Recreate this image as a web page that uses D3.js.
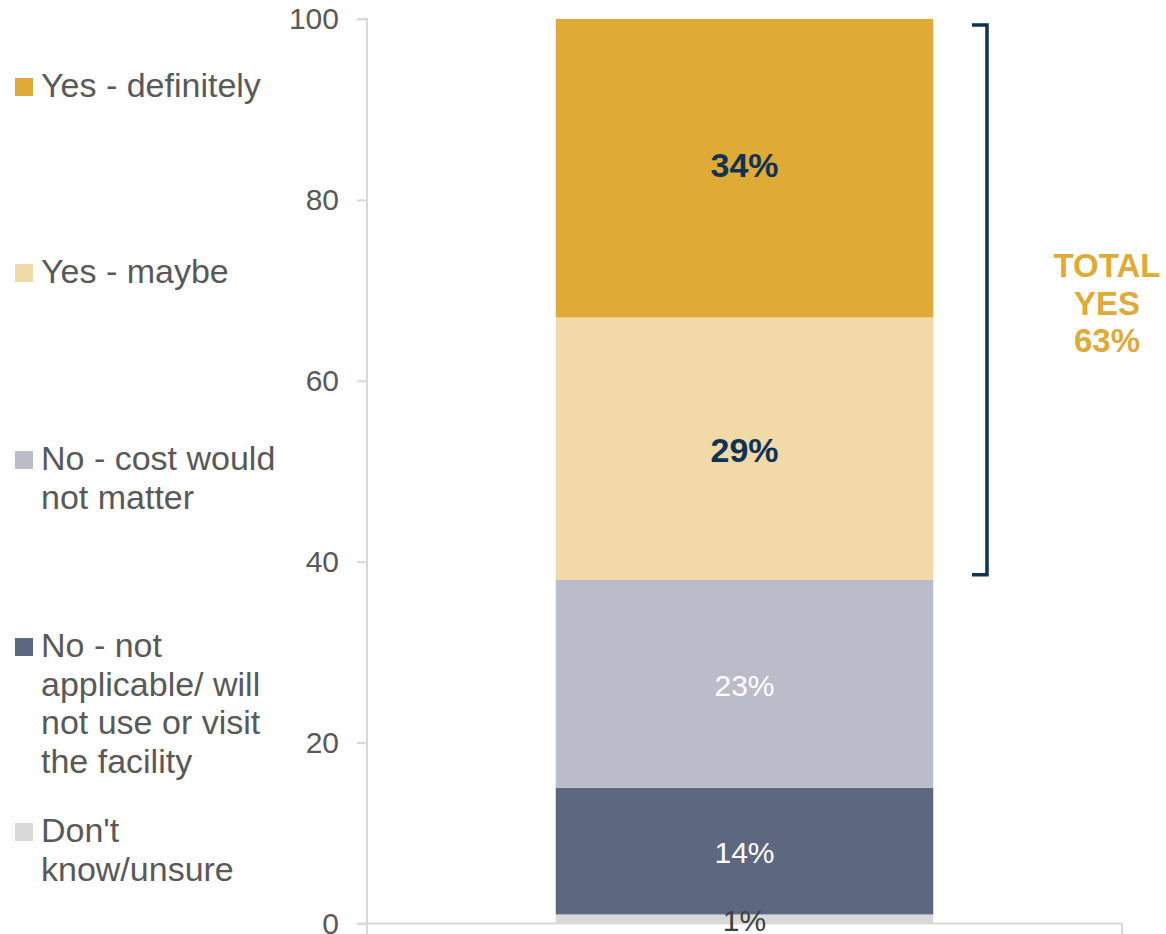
<!DOCTYPE html>
<html>
<head>
<meta charset="utf-8">
<script src="https://cdn.jsdelivr.net/npm/d3@7"></script>
<style>
  html, body { margin: 0; padding: 0; background: #fff; }
  svg { display: block; }
  text { font-family: "Liberation Sans", Arial, Helvetica, sans-serif; }
</style>
</head>
<body>
<svg id="chart" width="1166" height="934"></svg>
<script>
// ---- data ----
const categories = ["Total"];
const seriesNames = ["Don't know/unsure", "No - not applicable/ will not use or visit the facility", "No - cost would not matter", "Yes - maybe", "Yes - definitely"];
const seriesValues = [1, 14, 23, 29, 34];
const seriesLabels = ["1%", "14%", "23%", "29%", "34%"];
const legendLines = [
  ["Yes - definitely"],
  ["Yes - maybe"],
  ["No - cost would", "not matter"],
  ["No - not", "applicable/ will", "not use or visit", "the facility"],
  ["Don't", "know/unsure"]
];
const legendOrder = [4, 3, 2, 1, 0];
const yTicks = [0, 20, 40, 60, 80, 100];
const totalYesLines = ["TOTAL", "YES", "63%"];
const yesSeries = [3, 4];

// ---- styles ----
const colors = ["#D9D9D9", "#5D677F", "#BBBCC9", "#F2D9A8", "#E0AA36"];
const labelColors = ["#404040", "#FFFFFF", "#FFFFFF", "#0E3355", "#0E3355"];
const labelWeights = ["normal", "normal", "normal", "bold", "bold"];
const gray = "#595959";
const axisColor = "#D9D9D9";
const navy = "#0E3355";
const gold = "#E0AA36";

const svg = d3.select("#chart");

const x = d3.scaleBand().domain(categories).range([367, 1122]).paddingInner(0).paddingOuter(0.5);
const y = d3.scaleLinear().domain([0, 100]).range([923.5, 19]).clamp(true);
const yRaw = d3.scaleLinear().domain([0, 100]).range([923.5, 19]);

// stacked data
let acc = 0;
const stack = seriesValues.map((v, i) => {
  const s = { i, y0: acc, y1: acc + v };
  acc += v;
  return s;
});

// y axis
const yAxis = d3.axisLeft(y).tickValues(yTicks).tickSize(10).tickPadding(18).tickFormat(d3.format("d"));
const gy = svg.append("g").attr("transform", "translate(367,0)").call(yAxis);
gy.select(".domain").attr("stroke", axisColor).attr("stroke-width", 2).attr("d", "M-10,19H0V934");
gy.selectAll(".tick line").attr("stroke", axisColor).attr("stroke-width", 2);
gy.selectAll(".tick text").attr("fill", gray).attr("font-size", 30).attr("font-family", '"Liberation Sans", Arial, sans-serif');

// x axis (category axis, boundary ticks)
const xr = x.range();
svg.append("line").attr("x1", xr[0] - 10).attr("x2", xr[1]).attr("y1", y(0)).attr("y2", y(0))
  .attr("stroke", axisColor).attr("stroke-width", 2);
svg.append("line").attr("x1", xr[1]).attr("x2", xr[1]).attr("y1", y(0)).attr("y2", y(0) + 11)
  .attr("stroke", axisColor).attr("stroke-width", 2);

// bars
svg.append("g").selectAll("rect").data(stack).join("rect")
  .attr("x", x(categories[0]))
  .attr("width", x.bandwidth())
  .attr("y", d => y(d.y1))
  .attr("height", d => y(d.y0) - y(d.y1))
  .attr("fill", d => colors[d.i]);

// bar labels
svg.append("g").selectAll("text").data(stack).join("text")
  .attr("x", x(categories[0]) + x.bandwidth() / 2)
  .attr("y", d => yRaw((d.y0 + d.y1) / 2) + 1.5)
  .attr("dy", "0.36em")
  .attr("text-anchor", "middle")
  .attr("font-size", d => labelWeights[d.i] === "bold" ? 34 : 30)
  .attr("font-weight", d => labelWeights[d.i])
  .attr("fill", d => labelColors[d.i])
  .text(d => seriesLabels[d.i]);

// bracket for total yes
const yesBottom = stack[yesSeries[0]].y0;
const bx = 987, bTop = y(100) + 6, bBot = y(yesBottom) - 5;
svg.append("path")
  .attr("d", `M${bx - 15},${bTop}H${bx}V${bBot}H${bx - 15}`)
  .attr("fill", "none").attr("stroke", navy).attr("stroke-width", 3.5);

svg.append("g").selectAll("text").data(totalYesLines).join("text")
  .attr("x", 1107)
  .attr("y", (d, i) => 277 + i * 37.5)
  .attr("text-anchor", "middle")
  .attr("font-size", 33)
  .attr("font-weight", "bold")
  .attr("fill", gold)
  .text(d => d);

// legend
const legendBaselines = [97, 283, 470, 657, 842];
const lg = svg.append("g");
legendOrder.forEach((si, k) => {
  const base = legendBaselines[k];
  lg.append("rect").attr("x", 15).attr("y", base - 19).attr("width", 18).attr("height", 18).attr("fill", colors[si]);
  lg.append("text")
    .attr("x", 41).attr("y", base)
    .attr("font-size", 34)
    .attr("fill", gray)
    .selectAll("tspan").data(legendLines[k]).join("tspan")
    .attr("x", 41)
    .attr("dy", (d, j) => j === 0 ? 0 : 38.6)
    .text(d => d);
});
</script>
</body>
</html>
